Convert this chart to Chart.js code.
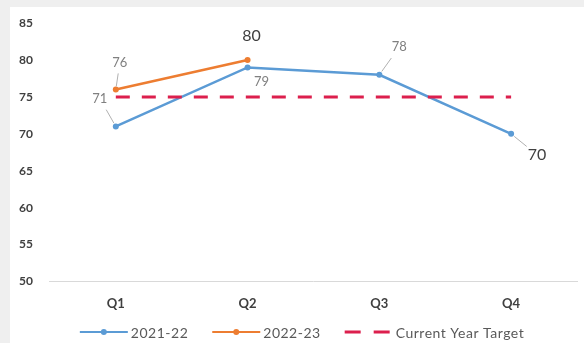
<!DOCTYPE html>
<html>
<head>
<meta charset="utf-8">
<script src="https://cdn.jsdelivr.net/npm/chart.js@4.4.1/dist/chart.umd.min.js"></script>
<style>
  html, body { margin: 0; padding: 0; background: #efefef; }
  #box { position: absolute; left: 10px; top: 7px; width: 574px; height: 336px; background: #fff; }
</style>
</head>
<body>
<div id="box"><canvas id="myChart" width="574" height="336"></canvas></div>
<script>
var quarters = ['Q1', 'Q2', 'Q3', 'Q4'];
var fy2122 = [71, 79, 78, 70];
var fy2223 = [76, 80, null, null];
var target = [75, 75, 75, 75];
var yTicks = [50, 55, 60, 65, 70, 75, 80, 85];

var seriesNames = ['2021-22', '2022-23', 'Current Year Target'];
var blue = '#5b9bd5', orange = '#ed7d31', red = '#dc1f4d';

// where each value label sits relative to its point: [dx, dy, size, leader]
var labelPlacement = {
  0: [[-16, -28, 13, true], [14, 14, 13, false], [20, -28, 13, true], [26, 21, 16, true]],
  1: [[4, -27, 13, true], [4, -24, 16, false]]
};

// value labels with small leader lines
var valueLabels = {
  id: 'valueLabels',
  afterDatasetsDraw: function(chart) {
    var ctx = chart.ctx;
    ctx.save();
    [0, 1].forEach(function(di) {
      var meta = chart.getDatasetMeta(di);
      var data = chart.data.datasets[di].data;
      meta.data.forEach(function(pt, i) {
        if (data[i] == null) return;
        var p = labelPlacement[di][i];
        var tx = pt.x + p[0], ty = pt.y + p[1];
        ctx.font = p[2] + 'px Lato';
        ctx.fillStyle = p[2] > 13 ? '#404040' : '#808080';
        ctx.textAlign = 'center';
        ctx.textBaseline = 'middle';
        ctx.fillText(String(data[i]), tx, ty);
        if (p[3]) {
          ctx.strokeStyle = '#b0b0b0';
          ctx.lineWidth = 1;
          ctx.beginPath();
          var sx = tx + (pt.x - tx) * 0.4, sy = ty + (pt.y - ty) * 0.4;
          ctx.moveTo(sx, sy);
          ctx.lineTo(pt.x + (tx - pt.x) * 0.12, pt.y + (ty - pt.y) * 0.12);
          ctx.stroke();
        }
      });
    });
    ctx.restore();
  }
};

// legend drawn under the axis: line sample (with marker) + name
var bottomLegend = {
  id: 'bottomLegend',
  afterDraw: function(chart) {
    var ctx = chart.ctx;
    var colors = [blue, orange, red];
    var lineLen = 48, gap = 24, y = 325;
    ctx.save();
    ctx.font = '14px Lato';
    ctx.letterSpacing = '0.5px';
    var widths = seriesNames.map(function(n) { return ctx.measureText(n).width; });
    var total = 0;
    widths.forEach(function(w, i) { total += lineLen + 3 + w + (i ? gap : 0); });
    var x = chart.width / 2 - total / 2 + 5;
    seriesNames.forEach(function(name, i) {
      ctx.strokeStyle = colors[i];
      if (i === 2) {
        ctx.lineWidth = 3;
        ctx.setLineDash([16, 13]);
        ctx.beginPath();
        ctx.moveTo(x, y);
        ctx.lineTo(x + lineLen, y);
        ctx.stroke();
        ctx.setLineDash([]);
      } else {
        ctx.lineWidth = 2;
        ctx.beginPath();
        ctx.moveTo(x, y);
        ctx.lineTo(x + lineLen, y);
        ctx.stroke();
        ctx.fillStyle = colors[i];
        ctx.beginPath();
        ctx.arc(x + lineLen / 2, y, 3, 0, Math.PI * 2);
        ctx.fill();
      }
      ctx.fillStyle = '#595959';
      ctx.textAlign = 'left';
      ctx.textBaseline = 'middle';
      ctx.fillText(name, x + lineLen + 3, y + 1);
      x += lineLen + 3 + widths[i] + gap;
    });
    ctx.restore();
  }
};

var chartdata = {
  labels: quarters,
  datasets: [
    {
      label: seriesNames[0],
      data: fy2122,
      borderColor: blue,
      backgroundColor: blue,
      borderWidth: 2.5,
      pointRadius: 3,
      pointBackgroundColor: blue,
      pointBorderWidth: 0,
      order: 2
    },
    {
      label: seriesNames[1],
      data: fy2223,
      borderColor: orange,
      backgroundColor: orange,
      borderWidth: 2.5,
      pointRadius: 3,
      pointBackgroundColor: orange,
      pointBorderWidth: 0,
      order: 1
    },
    {
      label: seriesNames[2],
      data: target,
      borderColor: red,
      borderWidth: 3,
      borderDash: [14, 12],
      pointRadius: 0,
      order: 0
    }
  ]
};

var ctx = document.getElementById('myChart');

var lineGraph = new Chart(ctx, {
  type: 'line',
  data: chartdata,
  plugins: [valueLabels, bottomLegend],
  options: {
    responsive: false,
    animation: false,
    layout: { padding: { top: 14, left: 0, right: 7, bottom: 24 } },
    plugins: {
      legend: { display: false },
      tooltip: { enabled: false }
    },
    scales: {
      x: {
        offset: true,
        grid: { display: false },
        border: { color: '#d9d9d9', width: 1 },
        ticks: { color: '#404040', font: { family: 'Lato', size: 13, weight: 'bold' }, padding: 7 }
      },
      y: {
        min: 50,
        max: 85,
        afterBuildTicks: function(axis) {
          axis.ticks = yTicks.map(function(v) { return { value: v }; });
        },
        grid: { display: false },
        border: { display: false },
        ticks: { color: '#404040', font: { family: 'Lato', size: 12, weight: 'bold' }, padding: 9 }
      }
    }
  }
});
</script>
</body>
</html>
